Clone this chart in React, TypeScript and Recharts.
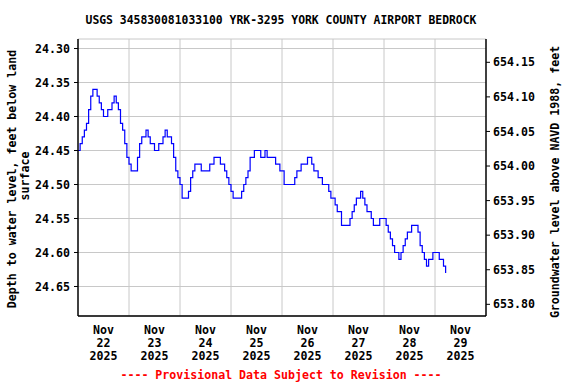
import React from 'react';
import { LineChart, Line, XAxis, YAxis, CartesianGrid } from 'recharts';

const TITLE = 'USGS 345830081033100 YRK-3295 YORK COUNTY AIRPORT BEDROCK';
const FOOTER = '---- Provisional Data Subject to Revision ----';
const LEFT_LABEL_1 = 'Depth to water level, feet below land';
const LEFT_LABEL_2 = 'surface';
const RIGHT_LABEL = 'Groundwater level above NAVD 1988, feet';

const monthLabel = 'Nov';
const yearLabel = '2025';
const dayLabels = ['22', '23', '24', '25', '26', '27', '28', '29'];
const dayLabelHours = [12, 36, 60, 84, 108, 132, 156, 180];
const midnightHours = [24, 48, 72, 96, 120, 144, 168];
const X_DOMAIN = [0, 192];

const depthTicks = [24.3, 24.35, 24.4, 24.45, 24.5, 24.55, 24.6, 24.65];
const elevTicks = [653.8, 653.85, 653.9, 653.95, 654.0, 654.05, 654.1, 654.15];

// hourly depth to water (ft below land surface), starting Nov 22 00:00
const depthFt = [
  24.45, 24.44, 24.43, 24.42, 24.41, 24.39, 24.37, 24.36, 24.36, 24.37,
  24.38, 24.39, 24.40, 24.40, 24.39, 24.39, 24.38, 24.37, 24.38, 24.39,
  24.41, 24.42, 24.44, 24.46, 24.47, 24.48, 24.48, 24.48, 24.46, 24.44,
  24.43, 24.43, 24.42, 24.43, 24.44, 24.44, 24.45, 24.45, 24.44, 24.44,
  24.43, 24.42, 24.43, 24.43, 24.44, 24.46, 24.48, 24.49, 24.50, 24.52,
  24.52, 24.52, 24.51, 24.49, 24.48, 24.47, 24.47, 24.47, 24.48, 24.48,
  24.48, 24.48, 24.47, 24.47, 24.46, 24.46, 24.46, 24.47, 24.47, 24.48,
  24.49, 24.50, 24.51, 24.52, 24.52, 24.52, 24.52, 24.51, 24.50, 24.49,
  24.48, 24.46, 24.46, 24.45, 24.45, 24.45, 24.46, 24.46, 24.45, 24.46,
  24.46, 24.46, 24.46, 24.47, 24.47, 24.48, 24.48, 24.50, 24.50, 24.50,
  24.50, 24.50, 24.49, 24.48, 24.48, 24.47, 24.47, 24.47, 24.46, 24.46,
  24.47, 24.48, 24.48, 24.49, 24.49, 24.50, 24.50, 24.50, 24.51, 24.52,
  24.52, 24.53, 24.54, 24.54, 24.56, 24.56, 24.56, 24.56, 24.55, 24.54,
  24.53, 24.52, 24.52, 24.51, 24.52, 24.53, 24.54, 24.54, 24.55, 24.56,
  24.56, 24.56, 24.55, 24.55, 24.55, 24.56, 24.57, 24.58, 24.59, 24.60,
  24.60, 24.61, 24.60, 24.59, 24.58, 24.57, 24.57, 24.56, 24.56, 24.56,
  24.57, 24.59, 24.60, 24.61, 24.62, 24.61, 24.61, 24.60, 24.60, 24.60,
  24.61, 24.61, 24.62, 24.63,
];

const data = depthFt.map((d, i) => ({ hour: i, depth: d }));

const FONT = '"DejaVu Sans Mono", "Liberation Mono", monospace';
const FS = 11.6;

const DayTick = (props: any) => {
  const { x, y, payload } = props;
  const idx = dayLabelHours.indexOf(payload.value);
  return (
    <text x={x} y={y} textAnchor="middle" fontFamily={FONT} fontWeight="bold" fontSize={FS} fill="#000">
      <tspan x={x} dy={18}>{monthLabel}</tspan>
      <tspan x={x} dy={13}>{dayLabels[idx]}</tspan>
      <tspan x={x} dy={13}>{yearLabel}</tspan>
    </text>
  );
};

const EmptyTick = () => <g />;

const tickStyle = { fontFamily: FONT, fontWeight: 'bold', fontSize: FS, fill: '#000' } as any;

const verticalGen = (props: any) => {
  const xAxis = props && props.xAxis;
  if (xAxis && typeof xAxis.scale === 'function') {
    return midnightHours.map((h) => xAxis.scale(h));
  }
  const off = props.offset;
  return midnightHours.map((h) => off.left + ((h - X_DOMAIN[0]) / (X_DOMAIN[1] - X_DOMAIN[0])) * off.width);
};

export default function App() {
  return (
    <div style={{ position: 'absolute', left: 0, top: 0, width: 576, height: 384, background: '#fff' }}>
      <LineChart width={576} height={384} data={data} margin={{ top: 39, right: 0, bottom: 0, left: 0 }}>
        <CartesianGrid
          yAxisId="left"
          stroke="#c8c8c8"
          strokeWidth={1}
          verticalCoordinatesGenerator={verticalGen}
        />
        <XAxis
          dataKey="hour"
          type="number"
          domain={X_DOMAIN}
          ticks={dayLabelHours}
          allowDataOverflow
          tick={<DayTick />}
          tickLine={false}
          tickSize={0}
          tickMargin={0}
          height={68}
          axisLine={{ stroke: '#000', strokeWidth: 1.5 }}
          interval={0}
        />
        <XAxis
          xAxisId="top"
          orientation="top"
          type="number"
          domain={X_DOMAIN}
          ticks={midnightHours}
          tick={<EmptyTick />}
          tickLine={false}
          height={0}
          axisLine={{ stroke: '#000', strokeWidth: 1.5 }}
        />
        <YAxis
          yAxisId="left"
          type="number"
          reversed
          domain={[24.286, 24.6934]}
          allowDataOverflow
          ticks={depthTicks}
          interval={0}
          width={78}
          tick={tickStyle}
          tickFormatter={(v: number) => v.toFixed(2)}
          tickSize={4}
          tickMargin={4}
          tickLine={{ stroke: '#000' }}
          axisLine={{ stroke: '#000', strokeWidth: 1.5 }}
        />
        <YAxis
          yAxisId="right"
          orientation="right"
          type="number"
          domain={[653.7831, 654.1837]}
          allowDataOverflow
          ticks={elevTicks}
          interval={0}
          width={90}
          tick={tickStyle}
          tickFormatter={(v: number) => v.toFixed(2)}
          tickSize={4}
          tickMargin={3}
          tickLine={{ stroke: '#000' }}
          axisLine={{ stroke: '#000', strokeWidth: 1.5 }}
        />
        <Line
          yAxisId="left"
          dataKey="depth"
          type="stepAfter"
          stroke="#0000ff"
          strokeWidth={1.2}
          dot={false}
          activeDot={false}
          isAnimationActive={false}
        />
      </LineChart>
      <svg width={576} height={384} style={{ position: 'absolute', left: 0, top: 0, pointerEvents: 'none' }}>
        <text x={281} y={24} textAnchor="middle" fontFamily={FONT} fontWeight="bold" fontSize={11.4} fill="#000">
          {TITLE}
        </text>
        <text x={281} y={379} textAnchor="middle" fontFamily={FONT} fontWeight="bold" fontSize={FS} fill="#ff0000">
          {FOOTER}
        </text>
        <text transform="translate(16,179) rotate(-90)" textAnchor="middle" fontFamily={FONT} fontWeight="bold" fontSize={FS} fill="#000">
          {LEFT_LABEL_1}
        </text>
        <text transform="translate(29,176) rotate(-90)" textAnchor="middle" fontFamily={FONT} fontWeight="bold" fontSize={FS} fill="#000">
          {LEFT_LABEL_2}
        </text>
        <text transform="translate(559,182) rotate(-90)" textAnchor="middle" fontFamily={FONT} fontWeight="bold" fontSize={FS} fill="#000">
          {RIGHT_LABEL}
        </text>
      </svg>
    </div>
  );
}
